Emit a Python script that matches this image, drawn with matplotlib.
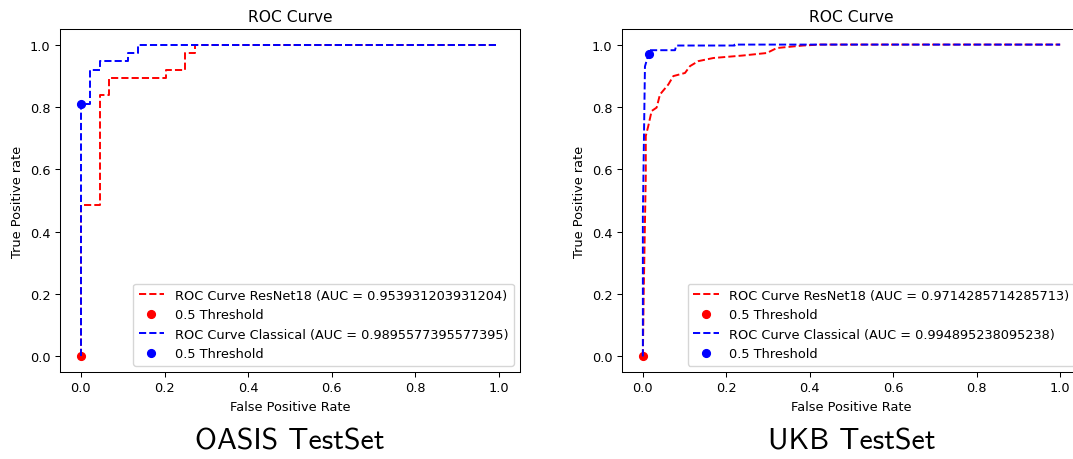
import matplotlib.pyplot as plt

# scaled-down default look (original was rendered bigger and shrunk)
s = 0.93
plt.rcParams['font.size'] = 10 * s
plt.rcParams['axes.linewidth'] = 0.8 * s
plt.rcParams['xtick.major.size'] = 3.5 * s
plt.rcParams['ytick.major.size'] = 3.5 * s
plt.rcParams['xtick.major.width'] = 0.8 * s
plt.rcParams['ytick.major.width'] = 0.8 * s

# OASIS test set (37 positives, 44 negatives)
oasis_fpr_resnet = [0, 0, 2/44, 2/44, 3/44, 3/44, 9/44, 9/44, 11/44, 11/44, 12/44, 12/44, 1]
oasis_tpr_resnet = [0, 18/37, 18/37, 31/37, 31/37, 33/37, 33/37, 34/37, 34/37, 36/37, 36/37, 1, 1]
oasis_fpr_classic = [0, 0, 1/44, 1/44, 2/44, 2/44, 5/44, 5/44, 6/44, 6/44, 1]
oasis_tpr_classic = [0, 30/37, 30/37, 34/37, 34/37, 35/37, 35/37, 36/37, 36/37, 1, 1]
oasis_thr_resnet = (0.0, 0.0)
oasis_thr_classic = (0.0, 30/37)
oasis_auc = ('0.953931203931204', '0.9895577395577395')

# UKB test set
ukb_fpr_resnet = [0, 0.002, 0.005, 0.007, 0.007, 0.013, 0.021, 0.033, 0.041, 0.061, 0.073,
                  0.101, 0.113, 0.133, 0.169, 0.24, 0.297, 0.321, 0.384, 0.424, 1]
ukb_tpr_resnet = [0, 0.2, 0.43, 0.58, 0.707, 0.739, 0.787, 0.798, 0.84, 0.872, 0.899,
                  0.909, 0.931, 0.947, 0.957, 0.965, 0.973, 0.989, 0.997, 1.0, 1.0]
ukb_fpr_classic = [0, 0, 0.005, 0.014, 0.014, 0.077, 0.08, 0.22, 0.22, 1]
ukb_tpr_classic = [0, 0.45, 0.93, 0.971, 0.982, 0.982, 0.997, 0.997, 1.0, 1.0]
ukb_thr_resnet = (0.0, 0.0)
ukb_thr_classic = (0.014, 0.971)
ukb_auc = ('0.9714285714285713', '0.994895238095238')

fig = plt.figure(figsize=(10.73, 4.60), dpi=100)
ax1 = fig.add_axes([60/1073, 87/460, 460/1073, 343/460])
ax2 = fig.add_axes([622/1073, 87/460, 459/1073, 343/460])

panels = [
    (ax1, oasis_fpr_resnet, oasis_tpr_resnet, oasis_thr_resnet,
     oasis_fpr_classic, oasis_tpr_classic, oasis_thr_classic, oasis_auc, 'OASIS TestSet'),
    (ax2, ukb_fpr_resnet, ukb_tpr_resnet, ukb_thr_resnet,
     ukb_fpr_classic, ukb_tpr_classic, ukb_thr_classic, ukb_auc, 'UKB TestSet'),
]

for ax, fr, tr, thr, fc, tc, thc, auc, caption in panels:
    ax.plot(fr, tr, 'r--', lw=1.5 * s, label=f'ROC Curve ResNet18 (AUC = {auc[0]})')
    ax.plot(thr[0], thr[1], 'ro', ms=6 * s, label='0.5 Threshold')
    ax.plot(fc, tc, 'b--', lw=1.5 * s, label=f'ROC Curve Classical (AUC = {auc[1]})')
    ax.plot(thc[0], thc[1], 'bo', ms=6 * s, label='0.5 Threshold')
    ax.set_title('ROC Curve', fontsize=12 * s)
    ax.set_xlabel('False Positive Rate')
    ax.set_ylabel('True Positive rate')
    ax.legend(loc='lower right', fontsize=10 * s)
    pos = ax.get_position()
    fig.text((pos.x0 + pos.x1) / 2, 10/460, caption, ha='center', va='baseline',
             fontsize=21.5, family='cmss10')

plt.savefig('out.png', dpi=100)
